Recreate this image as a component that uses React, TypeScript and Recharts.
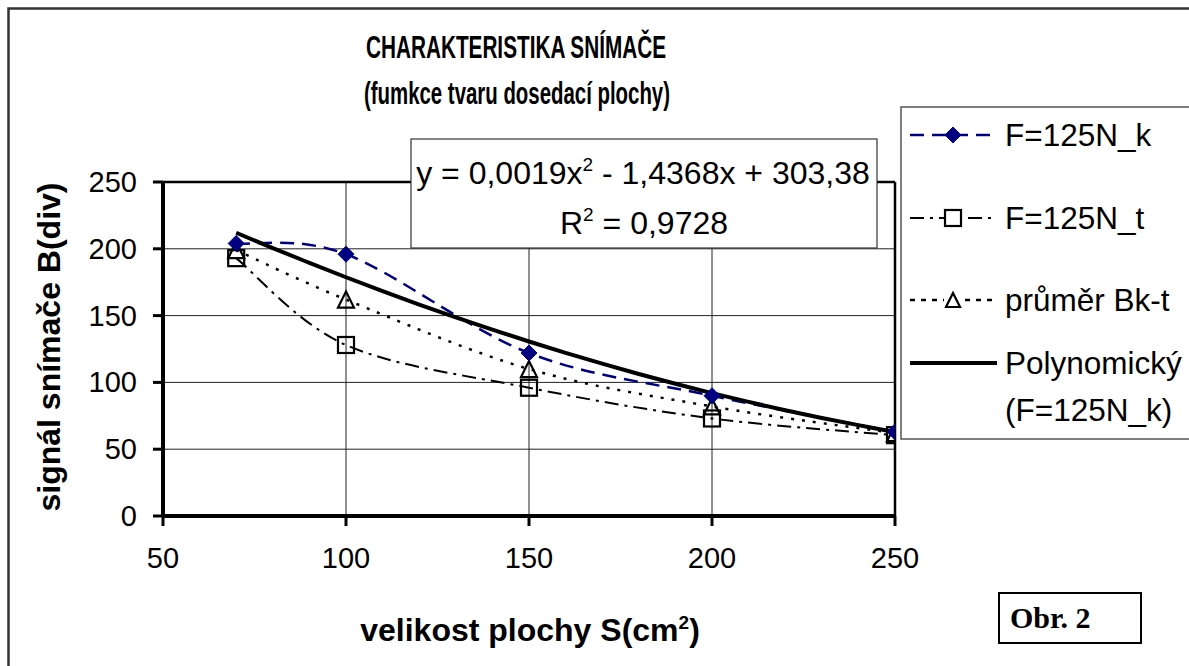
import React from "react";
import { LineChart, Line, XAxis, YAxis, CartesianGrid, ReferenceLine } from "recharts";

const areaX = [70, 100, 150, 200, 250];
const seriesK = [204, 196, 122, 90, 63];
const seriesT = [193, 128, 96, 73, 60.5];
const seriesAvg = [199, 162, 110, 82, 62];
const trendX = [70, 80, 90, 100, 110, 120, 130, 140, 150, 160, 170, 180, 190, 200, 210, 220, 230, 240, 250];
const trendY = [212, 200.5, 189.5, 178.7, 168.3, 158.3, 148.7, 139.5, 130.6, 122.1, 114, 106.3, 99, 92, 85.4, 79.2, 73.4, 68, 62.9];
const xTicks = [50, 100, 150, 200, 250];
const yTicks = [0, 50, 100, 150, 200, 250];

const FONT = "'Liberation Sans', Arial, Helvetica, sans-serif";
const NAVY = "#000080";

const dataK = areaX.map((x, i) => ({ x, y: seriesK[i] }));
const dataT = areaX.map((x, i) => ({ x, y: seriesT[i] }));
const dataAvg = areaX.map((x, i) => ({ x, y: seriesAvg[i] }));
const dataTrend = trendX.map((x, i) => ({ x, y: trendY[i] }));

// Excel-like smoothed line (Catmull-Rom style Bezier)
const smoothCurve: any = (context: any) => {
  let pts: number[][] = [];
  return {
    areaStart() {},
    areaEnd() {},
    lineStart() {
      pts = [];
    },
    point(x: number, y: number) {
      pts.push([+x, +y]);
    },
    lineEnd() {
      const n = pts.length;
      if (!n) return;
      context.moveTo(pts[0][0], pts[0][1]);
      for (let i = 0; i < n - 1; i++) {
        const p0 = pts[Math.max(i - 1, 0)];
        const p1 = pts[i];
        const p2 = pts[i + 1];
        const p3 = pts[Math.min(i + 2, n - 1)];
        const c1x = p1[0] + (p2[0] - p0[0]) / 6;
        const c1y = p1[1] + (p2[1] - p0[1]) / 6;
        const c2x = p2[0] - (p3[0] - p1[0]) / 6;
        const c2y = p2[1] - (p3[1] - p1[1]) / 6;
        context.bezierCurveTo(c1x, c1y, c2x, c2y, p2[0], p2[1]);
      }
    },
  };
};

const Diamond = ({ cx, cy, s = 8 }: any) => (
  <path d={`M${cx},${cy - s}L${cx + s},${cy}L${cx},${cy + s}L${cx - s},${cy}Z`} fill={NAVY} stroke={NAVY} strokeWidth={1} />
);
const Square = ({ cx, cy, s = 8 }: any) => (
  <rect x={cx - s} y={cy - s} width={2 * s} height={2 * s} fill="none" stroke="#000" strokeWidth={2.2} />
);
const Triangle = ({ cx, cy, s = 8 }: any) => (
  <path d={`M${cx},${cy - s}L${cx + s},${cy + s}L${cx - s},${cy + s}Z`} fill="none" stroke="#000" strokeWidth={2.2} />
);

const XTick = (props: any) => {
  const { x, y, payload } = props;
  return (
    <text x={x} y={y} dy={34} textAnchor="middle" fontSize={29} fontFamily={FONT} fill="#000">
      {payload.value}
    </text>
  );
};
const YTick = (props: any) => {
  const { x, y, payload } = props;
  return (
    <text x={x} y={y} dy={10} textAnchor="end" fontSize={29} fontFamily={FONT} fill="#000">
      {payload.value}
    </text>
  );
};

export default function App() {
  const legendRows = [
    { label: "F=125N_k", y: 135 },
    { label: "F=125N_t", y: 218 },
    { label: "průměr Bk-t", y: 300 },
    { label: "Polynomický", y: 363 },
  ];
  return (
    <div style={{ position: "absolute", left: 0, top: 0, width: 1189, height: 666, background: "#fff", overflow: "hidden" }}>
      <LineChart width={1189} height={666} margin={{ top: 182, right: 294, bottom: 0, left: 0 }}>
        <CartesianGrid stroke="#222" strokeWidth={1} />
        <XAxis
          type="number"
          dataKey="x"
          domain={[50, 250]}
          ticks={xTicks}
          interval={0}
          height={150}
          allowDataOverflow
          axisLine={{ stroke: "#000", strokeWidth: 4 }}
          tickLine={{ stroke: "#000", strokeWidth: 3 }}
          tickSize={10}
          tickMargin={8}
          tick={<XTick />}
        />
        <YAxis
          type="number"
          domain={[0, 250]}
          ticks={yTicks}
          interval={0}
          width={163}
          allowDataOverflow
          axisLine={{ stroke: "#000", strokeWidth: 4 }}
          tickLine={{ stroke: "#000", strokeWidth: 3 }}
          tickSize={10}
          tickMargin={16}
          tick={<YTick />}
        />
        <ReferenceLine y={250} stroke="#000" strokeWidth={2.5} />
        <ReferenceLine x={250} stroke="#000" strokeWidth={2.5} />
        <Line
          data={dataT}
          dataKey="y"
          type={smoothCurve}
          stroke="#000"
          strokeWidth={2}
          strokeDasharray="14 6 3 6"
          isAnimationActive={false}
          dot={(p: any) => <Square key={`t${p.index}`} cx={p.cx} cy={p.cy} />}
          activeDot={false}
        />
        <Line
          data={dataAvg}
          dataKey="y"
          type={smoothCurve}
          stroke="#000"
          strokeWidth={2.5}
          strokeDasharray="3 8"
          isAnimationActive={false}
          dot={(p: any) => <Triangle key={`a${p.index}`} cx={p.cx} cy={p.cy} />}
          activeDot={false}
        />
        <Line
          data={dataK}
          dataKey="y"
          type={smoothCurve}
          stroke={NAVY}
          strokeWidth={2.5}
          strokeDasharray="14 8"
          isAnimationActive={false}
          dot={(p: any) => <Diamond key={`k${p.index}`} cx={p.cx} cy={p.cy} />}
          activeDot={false}
        />
        <Line
          data={dataTrend}
          dataKey="y"
          type={smoothCurve}
          stroke="#000"
          strokeWidth={4}
          isAnimationActive={false}
          dot={false}
          activeDot={false}
        />
      </LineChart>

      <svg width={1189} height={666} style={{ position: "absolute", left: 0, top: 0, pointerEvents: "none" }}>
        <rect x={8.5} y={8.5} width={1300} height={800} fill="none" stroke="#333" strokeWidth={2.5} />
        <text x={516} y={58} textAnchor="middle" fontSize={32} fontWeight="bold" fontFamily={FONT} textLength={300} lengthAdjust="spacingAndGlyphs">
          CHARAKTERISTIKA SNÍMAČE
        </text>
        <text x={517} y={104} textAnchor="middle" fontSize={32} fontWeight="bold" fontFamily={FONT} textLength={306} lengthAdjust="spacingAndGlyphs">
          (fumkce tvaru dosedací plochy)
        </text>

        <rect x={411} y={139} width={466} height={109} fill="#fff" stroke="#333" strokeWidth={1.2} />
        <text x={643} y={184} textAnchor="middle" fontSize={32} fontFamily={FONT}>
          y = 0,0019x<tspan dy={-13} fontSize={19}>2</tspan>
          <tspan dy={13}> - 1,4368x + 303,38</tspan>
        </text>
        <text x={644} y={234} textAnchor="middle" fontSize={32} fontFamily={FONT}>
          R<tspan dy={-13} fontSize={19}>2</tspan>
          <tspan dy={13}> = 0,9728</tspan>
        </text>

        <rect x={901} y={107} width={400} height={332} fill="#fff" stroke="#555" strokeWidth={1.5} />
        <line x1={910} x2={997} y1={135} y2={135} stroke={NAVY} strokeWidth={2.5} strokeDasharray="14 8" />
        <Diamond cx={953} cy={135} />
        <line x1={910} x2={997} y1={218} y2={218} stroke="#000" strokeWidth={2} strokeDasharray="14 6 3 6" />
        <rect x={945} y={210} width={16} height={16} fill="#fff" stroke="none" />
        <Square cx={953} cy={218} />
        <line x1={910} x2={997} y1={300} y2={300} stroke="#000" strokeWidth={2.5} strokeDasharray="5 6" />
        <rect x={944} y={290} width={18} height={18} fill="#fff" stroke="none" />
        <Triangle cx={953} cy={300} s={7} />
        <line x1={910} x2={997} y1={363} y2={363} stroke="#000" strokeWidth={4} />
        {legendRows.map((r) => (
          <text key={r.label} x={1005} y={r.y + 11} fontSize={31.5} fontFamily={FONT}>
            {r.label}
          </text>
        ))}
        <text x={1005} y={421} fontSize={31.5} fontFamily={FONT}>
          (F=125N_k)
        </text>

        <text
          transform="translate(60,347) rotate(-90)"
          textAnchor="middle"
          fontSize={31}
          fontWeight="bold"
          fontFamily={FONT}
          textLength={329}
          lengthAdjust="spacingAndGlyphs"
        >
          signál snímače B(div)
        </text>
        <text x={530} y={641} textAnchor="middle" fontSize={32} fontWeight="bold" fontFamily={FONT}>
          velikost plochy S(cm<tspan dy={-12} fontSize={19}>2</tspan>
          <tspan dy={12}>)</tspan>
        </text>

        <rect x={999} y={593} width={142} height={50} fill="#fff" stroke="#000" strokeWidth={2} />
        <text x={1010} y={628} fontSize={30} fontWeight="bold" fontFamily="'Liberation Serif', 'Times New Roman', serif">
          Obr. 2
        </text>
      </svg>
    </div>
  );
}
